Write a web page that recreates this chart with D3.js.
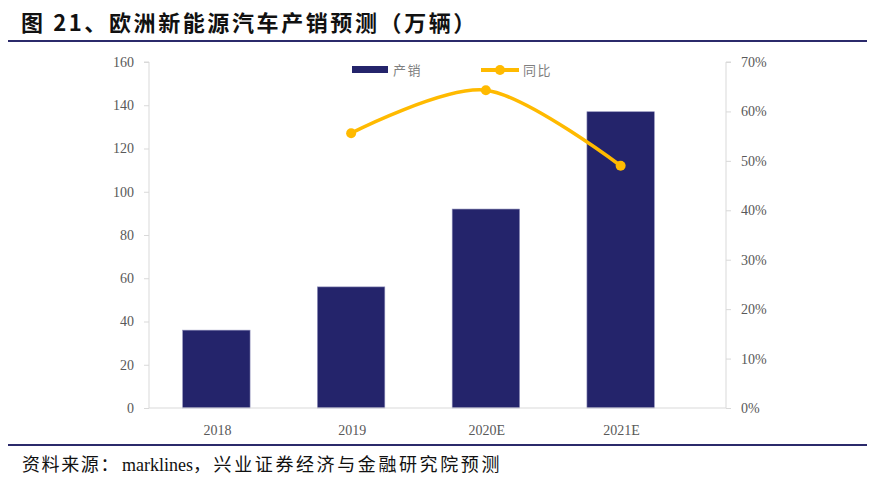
<!DOCTYPE html>
<html>
<head>
<meta charset="utf-8">
<script src="https://cdn.jsdelivr.net/npm/d3@7"></script>
<style>
  body { margin: 0; background: #fff; }
  svg { display: block; }
</style>
</head>
<body>
<svg id="chart" width="893" height="482"></svg>
<script>
// data
const years  = ['2018', '2019', '2020E', '2021E'];
const sales  = [36, 56, 92, 137];          // 万辆
const yoy    = [null, 55.6, 64.3, 49.0];   // %
const leftTicks  = [0, 20, 40, 60, 80, 100, 120, 140, 160];
const rightTicks = [0, 10, 20, 30, 40, 50, 60, 70];

const svg = d3.select('#chart');
const navy = '#24246b';
const gold = '#FFBA00';
const tickColor = '#595959';
const serif = '"Liberation Serif", "Times New Roman", serif';

// ── title + rules ─────────────────────────
svg.append('text')
  .attr('x', 21).attr('y', 31)
  .attr('font-family', '"Noto Sans CJK SC", sans-serif')
  .attr('font-weight', 'bold')
  .attr('font-size', 22)
  .attr('letter-spacing', 2.6)
  .attr('fill', '#111')
  .text('图 21、欧洲新能源汽车产销预测（万辆）');

svg.append('line').attr('x1', 8).attr('x2', 867).attr('y1', 41).attr('y2', 41)
  .attr('stroke', '#2b2a6b').attr('stroke-width', 2);
svg.append('line').attr('x1', 8).attr('x2', 867).attr('y1', 445).attr('y2', 445)
  .attr('stroke', '#2b2a6b').attr('stroke-width', 2);

// source line: CJK parts spaced wider than the latin word
const src = svg.append('text')
  .attr('x', 22).attr('y', 471)
  .attr('font-family', '"Liberation Serif", "Noto Sans CJK SC", serif')
  .attr('font-size', 18)
  .attr('fill', '#111');
src.append('tspan').attr('letter-spacing', 1.6).text('资料来源：');
src.append('tspan').attr('dx', 2).text('marklines');
src.append('tspan').attr('letter-spacing', 2.6).text('，兴业证券经济与金融研究院预测');

// ── scales ────────────────────────────────
const x0 = 149, x1 = 726, yTop = 62, yBot = 408;

const x = d3.scaleBand().domain(years).range([x0, 688]).paddingInner(0.5).paddingOuter(0.25);
const yL = d3.scaleLinear().domain([0, 160]).range([yBot, yTop]);
const yR = d3.scaleLinear().domain([0, 70]).range([yBot, yTop]);

// ── axes ──────────────────────────────────
const axisL = svg.append('g').attr('transform', `translate(${x0},0)`)
  .call(d3.axisLeft(yL).tickValues(leftTicks).tickSize(5).tickPadding(10));
const axisR = svg.append('g').attr('transform', `translate(${x1},0)`)
  .call(d3.axisRight(yR).tickValues(rightTicks).tickSize(5).tickPadding(10)
    .tickFormat(d => d + '%'));

[axisL, axisR].forEach(g => {
  g.select('.domain').attr('stroke', '#d9d9d9').attr('d', null);
  g.selectAll('.tick line').attr('stroke', '#d9d9d9');
  g.selectAll('text').attr('font-family', serif).attr('font-size', 14).attr('fill', tickColor);
});
axisL.select('.domain').attr('d', `M-5,${yTop}H0V${yBot}`);
axisR.select('.domain').attr('d', `M5,${yTop}H0V${yBot}`);

// ── bars ──────────────────────────────────
svg.selectAll('.bar')
  .data(sales)
  .enter().append('rect')
  .attr('class', 'bar')
  .attr('x', (d, i) => x(years[i]))
  .attr('y', d => yL(d))
  .attr('width', x.bandwidth())
  .attr('height', d => yBot - yL(d))
  .attr('fill', navy)
  .attr('stroke', '#8c8cb8')
  .attr('stroke-width', 0.6);

// baseline
svg.append('line').attr('x1', x0).attr('x2', x1).attr('y1', yBot).attr('y2', yBot)
  .attr('stroke', '#d9d9d9').attr('stroke-width', 1.2);

// x labels
svg.selectAll('.xlab')
  .data(years)
  .enter().append('text')
  .attr('x', d => x(d) + x.bandwidth() / 2 + 1)
  .attr('y', yBot + 27)
  .attr('text-anchor', 'middle')
  .attr('font-family', serif).attr('font-size', 14).attr('fill', tickColor)
  .text(d => d);

// ── yoy line ──────────────────────────────
const pts = years.map((yr, i) => ({ yr, v: yoy[i] })).filter(d => d.v != null);
const line = d3.line()
  .x(d => x(d.yr) + x.bandwidth() / 2)
  .y(d => yR(d.v))
  .curve(d3.curveCardinal.tension(0.1));

svg.append('path')
  .datum(pts)
  .attr('d', line)
  .attr('fill', 'none')
  .attr('stroke', gold)
  .attr('stroke-width', 3.6)
  .attr('stroke-linecap', 'round');

svg.selectAll('.dot')
  .data(pts)
  .enter().append('circle')
  .attr('cx', d => x(d.yr) + x.bandwidth() / 2)
  .attr('cy', d => yR(d.v))
  .attr('r', 5)
  .attr('fill', gold);

// ── legend ────────────────────────────────
const lg = svg.append('g');
lg.append('rect').attr('x', 352).attr('y', 66).attr('width', 36).attr('height', 7).attr('fill', navy);
lg.append('text').attr('x', 393).attr('y', 75)
  .attr('font-family', '"Noto Sans CJK SC", sans-serif').attr('font-size', 13)
  .attr('letter-spacing', 1.5).attr('fill', '#7f7f7f')
  .text('产销');
lg.append('line').attr('x1', 481).attr('x2', 519).attr('y1', 70).attr('y2', 70)
  .attr('stroke', gold).attr('stroke-width', 4);
lg.append('circle').attr('cx', 500).attr('cy', 70).attr('r', 5).attr('fill', gold);
lg.append('text').attr('x', 523).attr('y', 75)
  .attr('font-family', '"Noto Sans CJK SC", sans-serif').attr('font-size', 13)
  .attr('letter-spacing', 1.5).attr('fill', '#7f7f7f')
  .text('同比');
</script>
</body>
</html>
